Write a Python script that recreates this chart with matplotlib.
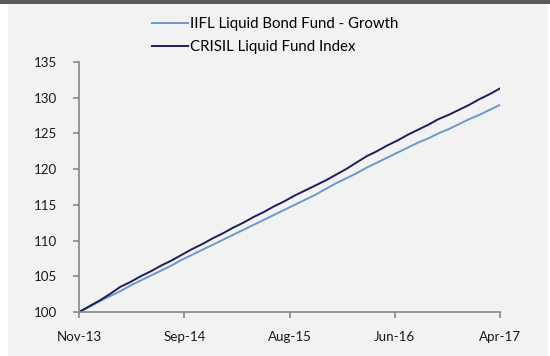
import matplotlib
matplotlib.use("Agg")
import matplotlib.pyplot as plt
from matplotlib.patches import Rectangle

# Monthly index values, Nov-13 .. Apr-17 (rebased to 100)
fund = [100.0, 100.7, 101.5, 102.2, 102.9, 103.7, 104.4, 105.1, 105.8, 106.5,
        107.3, 108.0, 108.7, 109.4, 110.1, 110.8, 111.5, 112.2, 112.9, 113.6,
        114.3, 115.0, 115.7, 116.4, 117.2, 118.0, 118.7, 119.4, 120.2, 120.9,
        121.6, 122.3, 123.0, 123.7, 124.3, 125.0, 125.6, 126.3, 127.0, 127.6,
        128.3, 129.0]
crisil = [100.0, 100.8, 101.6, 102.5, 103.5, 104.2, 105.0, 105.7, 106.5, 107.2,
          108.0, 108.8, 109.5, 110.3, 111.0, 111.8, 112.5, 113.3, 114.0, 114.8,
          115.5, 116.3, 117.0, 117.7, 118.4, 119.2, 120.0, 120.9, 121.8, 122.5,
          123.3, 124.0, 124.8, 125.5, 126.2, 127.0, 127.6, 128.3, 129.0, 129.8,
          130.5, 131.3]
months = list(range(len(fund)))
tick_labels = ["Nov-13", "Sep-14", "Aug-15", "Jun-16", "Apr-17"]
y_ticks = [100, 105, 110, 115, 120, 125, 130, 135]

plt.rcParams["font.family"] = ["Lato", "DejaVu Sans"]

fig = plt.figure(figsize=(5.5, 3.56), dpi=100)
fig.patch.set_facecolor("white")

# panel background and dark header strip
fig.patches.append(Rectangle((8 / 550, 0), 540 / 550, 1, transform=fig.transFigure,
                             facecolor="#f2f2f2", edgecolor="none", zorder=-10))
fig.patches.append(Rectangle((0, 1 - 3.5 / 356), 1, 3.5 / 356, transform=fig.transFigure,
                             facecolor="#595959", edgecolor="none", zorder=-9))

ax = fig.add_axes([79 / 550, 1 - 312 / 356, 421 / 550, 250 / 356])
ax.set_facecolor("none")

ax.plot(months, fund, color="#6c97cf", lw=1.4, label="IIFL Liquid Bond Fund - Growth")
ax.plot(months, crisil, color="#1f1d5a", lw=1.4, label="CRISIL Liquid Fund Index")

ax.set_xlim(0, months[-1])
ax.set_ylim(100, 135)
step = months[-1] / (len(tick_labels) - 1)
ax.set_xticks([i * step for i in range(len(tick_labels))])
ax.set_xticklabels(tick_labels)
ax.set_yticks(y_ticks)

for s in ["top", "right"]:
    ax.spines[s].set_visible(False)
for s in ["left", "bottom"]:
    ax.spines[s].set_color("#888888")
    ax.spines[s].set_linewidth(1.2)
ax.tick_params(axis="both", colors="#888888", length=4.5, width=1.2,
               labelsize=9.6, labelcolor="#1a1a1a")
ax.tick_params(axis="x", pad=9.5)
ax.tick_params(axis="y", pad=11.5)

fig.legend(loc="upper left", bbox_to_anchor=(152 / 550, 1 - 17 / 356),
           frameon=False, fontsize=10.8, handlelength=2.4, handletextpad=0.15,
           labelspacing=0.6, borderaxespad=0, borderpad=0)

fig.savefig("out.png", dpi=100, facecolor=fig.get_facecolor())
